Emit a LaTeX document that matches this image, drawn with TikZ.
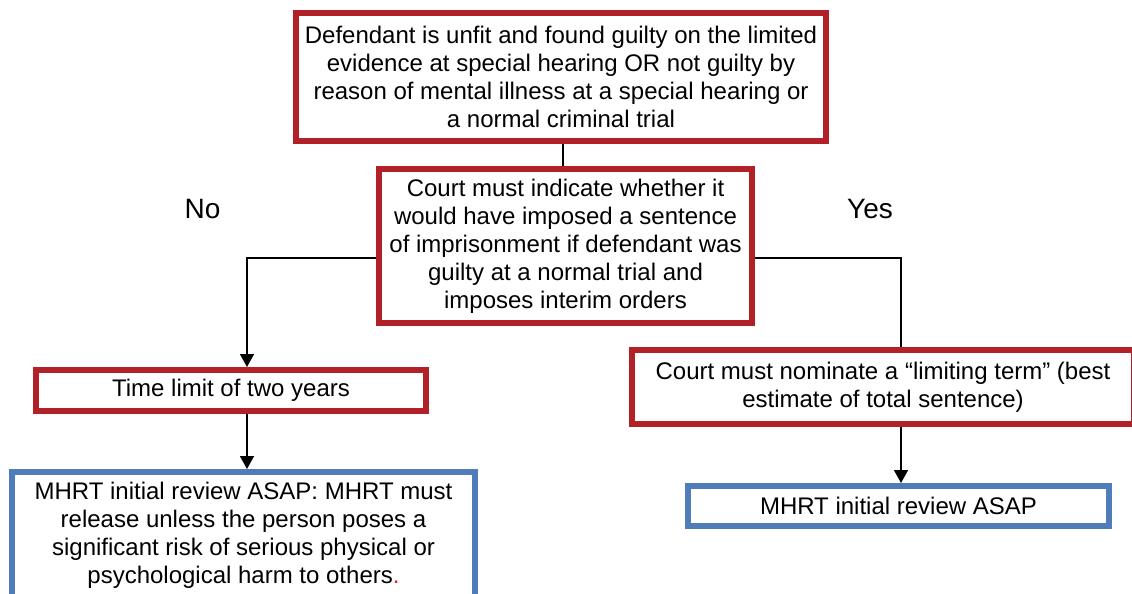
\documentclass[tikz,border=0pt]{standalone}
\usepackage{fontspec}
\setmainfont{Liberation Sans}
\usetikzlibrary{arrows.meta,backgrounds}
\definecolor{boxred}{RGB}{178,32,40}
\definecolor{boxblue}{RGB}{79,125,185}
\definecolor{dotred}{RGB}{230,30,30}
\begin{document}
\begin{tikzpicture}[x=1pt,y=-1pt,
  basebox/.style={line width=6pt, fill=white, inner sep=0pt, align=center,
    font=\fontsize{24}{28}\selectfont},
  redbox/.style={basebox, draw=boxred},
  bluebox/.style={basebox, draw=boxblue},
  conn/.style={line width=1.5pt, draw=black},
  arr/.style={conn, -{Triangle[width=14pt,length=13pt]}},
  lbl/.style={anchor=base, font=\fontsize{28}{32}\selectfont}]
\useasboundingbox (0,0) rectangle (1132,594);

\node[redbox, minimum width=530pt, minimum height=128pt] (top) at (561,77)
  {Defendant is unfit and found guilty on the limited\\
   evidence at special hearing OR not guilty by\\
   reason of mental illness at a special hearing or\\
   a normal criminal trial};
\node[redbox, minimum width=373pt, minimum height=154pt] (mid) at (565.5,246)
  {Court must indicate whether it\\
   would have imposed a sentence\\
   of imprisonment if defendant was\\
   guilty at a normal trial and\\
   imposes interim orders};
\node[redbox, minimum width=390pt, minimum height=41pt] (time) at (231,390.5)
  {Time limit of two years};
\node[bluebox, minimum width=463pt, minimum height=130pt] (mhrtL) at (243.5,537)
  {MHRT initial review ASAP: MHRT must\\
   release unless the person poses a\\
   significant risk of serious physical or\\
   psychological harm to others{\color{dotred}.}\\[-19pt]\mbox{}};
\node[redbox, minimum width=502pt, minimum height=74pt] (lim) at (883,387)
  {Court must nominate a “limiting term” (best\\
   estimate of total sentence)};
\node[bluebox, minimum width=421pt, minimum height=40pt] (mhrtR) at (898.5,506)
  {MHRT initial review ASAP};

\node[lbl] (no) at (202.5,218) {No};
\node[lbl] (yes) at (870,218) {Yes};

\coordinate (cx) at (563,0);
\coordinate (lx) at (247,258);
\coordinate (rx) at (901,258);

\begin{scope}[on background layer]
\draw[conn] (top.south -| cx) -- (mid.north -| cx);
\draw[arr] (mid.west |- lx) -| (time.north -| lx);
\draw[arr] (time.south -| lx) -- (mhrtL.north -| lx);
\draw[conn] (mid.east |- rx) -| (lim.north -| rx);
\draw[arr] (lim.south -| rx) -- (mhrtR.north -| rx);
\end{scope}
\end{tikzpicture}
\end{document}
